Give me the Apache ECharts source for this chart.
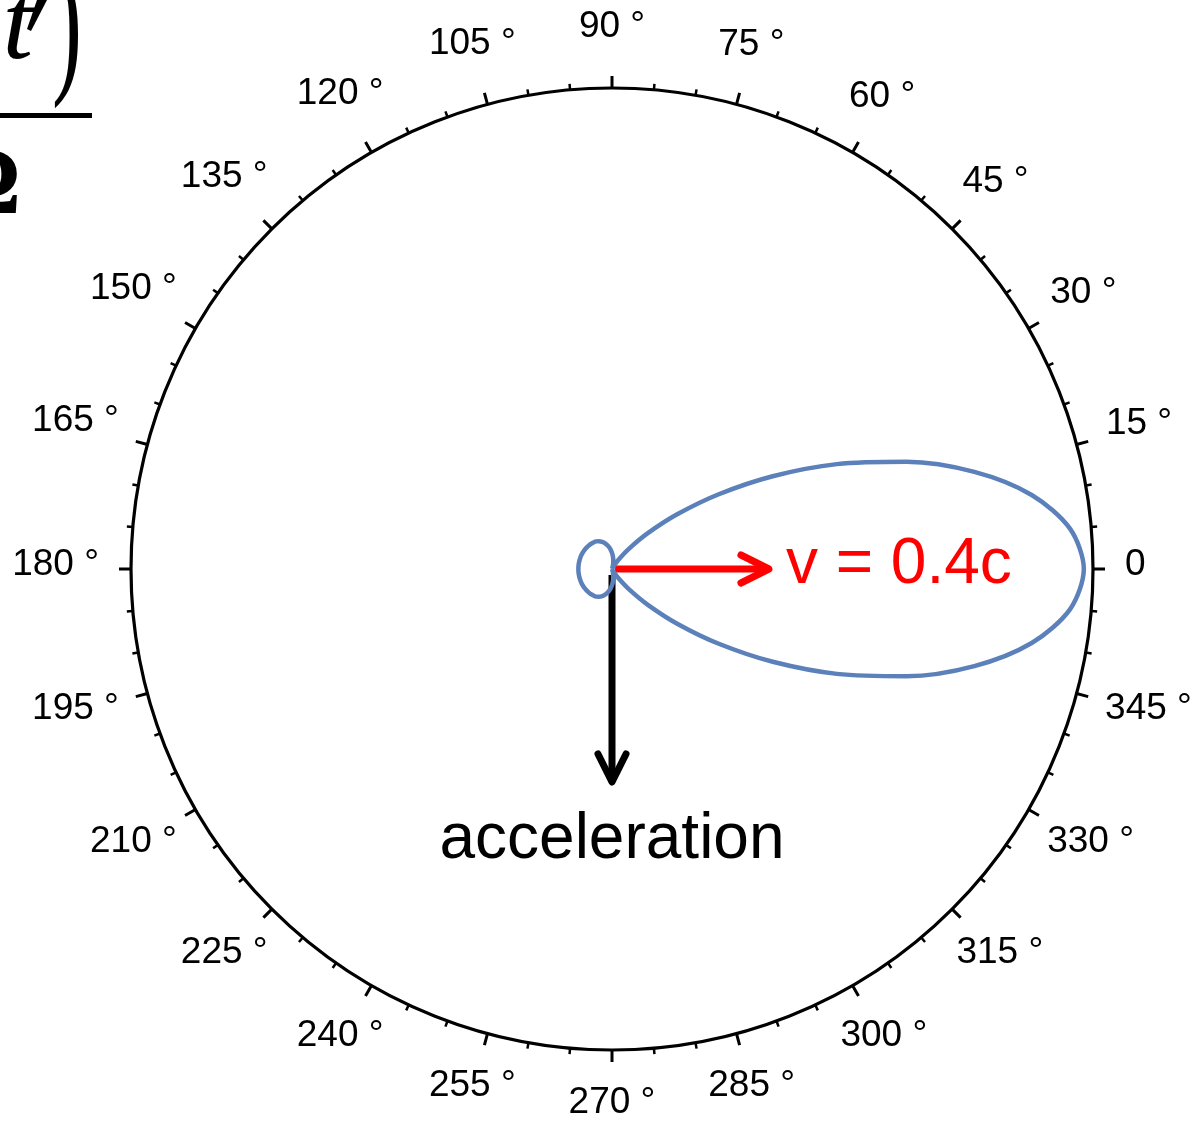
<!DOCTYPE html>
<html>
<head>
<meta charset="utf-8">
<script src="https://cdn.jsdelivr.net/npm/echarts@6/dist/echarts.min.js"></script>
<style>
html,body{margin:0;padding:0;background:#ffffff;}
#chart{width:1202px;height:1121px;}
</style>
</head>
<body>
<div id="chart"></div>
<script>
// ---- data ----
// radiation pattern (relative intensity) versus polar angle in degrees,
// traced starting from the point where the curve passes through the centre
const patternAngles = [66.4,70,75,80,85,90,95,100,105,110,115,120,125,130,135,140,145,150,155,160,165,170,175,180,185,190,195,200,205,210,215,220,225,230,235,240,245,250,255,260,265,270,275,280,285,290,293.6,295,300,305,310,315,320,325,330,335,340,345,350,355,0,5,10,15,20,25,30,35,40,45,50,55,60,65,66.4];
const patternValues = [0,0.007,0.034,0.073,0.117,0.158,0.199,0.232,0.260,0.282,0.300,0.313,0.318,0.322,0.324,0.326,0.328,0.329,0.330,0.330,0.330,0.330,0.330,0.330,0.330,0.330,0.330,0.330,0.330,0.329,0.328,0.326,0.324,0.322,0.318,0.313,0.300,0.282,0.260,0.232,0.199,0.158,0.117,0.073,0.034,0.007,0,0.001,0.031,0.111,0.261,0.497,0.835,1.279,1.821,2.435,3.076,3.681,4.182,4.513,4.630,4.513,4.182,3.681,3.076,2.435,1.821,1.279,0.835,0.497,0.261,0.111,0.031,0.001,0];
const radiusMax = 4.72;
// angle tick labels
const tickLabelAngles = [0,15,30,45,60,75,90,105,120,135,150,165,180,195,210,225,240,255,270,285,300,315,330,345];
const tickLabels = ['0','15 °','30 °','45 °','60 °','75 °','90 °','105 °','120 °','135 °','150 °','165 °','180 °','195 °','210 °','225 °','240 °','255 °','270 °','285 °','300 °','315 °','330 °','345 °'];
// annotation arrows (radius units of the same axis)
const arrowAngles = [0, 270];
const arrowStart = [0.03, 0.06];
const arrowEnd = [1.54, 2.09];
const arrowLabels = ['v = 0.4c', 'acceleration'];

// ---- styles ----
const arrowColors = ['#ff0000', '#000000'];
const curveColor = '#5b80ba';
const labelFontSize = 37;
const labelFont = labelFontSize + 'px "Liberation Sans"';
const CIRCLE_R = 481;

// label radius so that the label box sits just outside the dial
const ctx = document.createElement('canvas').getContext('2d');
ctx.font = labelFont;
const labelData = tickLabelAngles.map(function (a, i) {
  const w = ctx.measureText(tickLabels[i]).width;
  const rad = a * Math.PI / 180;
  const px = 513 + Math.sqrt(Math.pow(w / 2 * Math.cos(rad), 2) + Math.pow(25 * Math.sin(rad), 2));
  return [px / CIRCLE_R * radiusMax, a];
});

const patternData = patternAngles.map(function (a, i) { return [patternValues[i], a]; });
const arrowData = arrowAngles.map(function (a, i) { return [arrowStart[i], arrowEnd[i], a]; });

const chart = echarts.init(document.getElementById('chart'), null, { renderer: 'canvas' });
chart.setOption({
  animation: false,
  backgroundColor: '#ffffff',
  polar: { center: [612, 569], radius: CIRCLE_R },
  angleAxis: {
    type: 'value', min: 0, max: 360, interval: 15,
    startAngle: 0, clockwise: false,
    axisLine: { show: true, lineStyle: { color: '#000', width: 3.2 } },
    axisTick: { show: true, inside: false, length: 12, lineStyle: { color: '#000', width: 3 } },
    minorTick: { show: true, splitNumber: 3, length: 6, lineStyle: { color: '#000', width: 2.5 } },
    axisLabel: { show: false },
    splitLine: { show: false },
    minorSplitLine: { show: false }
  },
  radiusAxis: {
    type: 'value', min: 0, max: radiusMax, show: false,
    splitLine: { show: false }, axisLine: { show: false }, axisTick: { show: false }, axisLabel: { show: false }
  },
  graphic: [
    { type: 'text', x: 33, y: 29, silent: true,
      style: { text: 't', font: 'italic 110px "Liberation Serif"', fill: '#000', align: 'right', verticalAlign: 'middle' } },
    { type: 'polygon', silent: true,
      shape: { points: [[37, 0], [47, 0], [31, 31], [27, 29]] }, style: { fill: '#000' } },
    { type: 'text', x: 52, y: 31, scaleY: 1.8, silent: true,
      style: { text: ')', font: '90px "Liberation Serif"', fill: '#000', align: 'left', verticalAlign: 'middle' } },
    { type: 'rect', silent: true, shape: { x: 0, y: 113, width: 92, height: 5 }, style: { fill: '#000' } },
    { type: 'text', x: 21, y: 188, silent: true,
      style: { text: 'Ω', font: 'bold 95px "Liberation Serif"', fill: '#000', align: 'right', verticalAlign: 'middle' } }
  ],
  series: [
    {
      type: 'line', coordinateSystem: 'polar', data: patternData,
      showSymbol: false, smooth: 0.3, silent: true,
      lineStyle: { color: curveColor, width: 4.5 }
    },
    {
      type: 'custom', coordinateSystem: 'polar', data: arrowData, silent: true,
      renderItem: function (params, api) {
        const i = params.dataIndex;
        const a = api.value(2);
        const p0 = api.coord([api.value(0), a]);
        const p1 = api.coord([api.value(1), a]);
        const dx = p1[0] - p0[0], dy = p1[1] - p0[1];
        const L = Math.sqrt(dx * dx + dy * dy);
        const ux = dx / L, uy = dy / L;
        const nx = -uy, ny = ux;
        const back = 28, half = 14;
        const color = arrowColors[i];
        const w1 = [p1[0] - ux * back + nx * half, p1[1] - uy * back + ny * half];
        const w2 = [p1[0] - ux * back - nx * half, p1[1] - uy * back - ny * half];
        const horizontal = Math.abs(ux) > Math.abs(uy);
        const tx = horizontal ? p1[0] + ux * 17 : p1[0];
        const ty = horizontal ? p1[1] - 4 : p1[1] + uy * 26;
        return {
          type: 'group',
          children: [
            { type: 'line', shape: { x1: p0[0], y1: p0[1], x2: p1[0] - ux * 2, y2: p1[1] - uy * 2 },
              style: { stroke: color, lineWidth: 7, lineCap: 'butt' } },
            { type: 'polyline', shape: { points: [w1, p1, w2] },
              style: { stroke: color, fill: null, lineWidth: 7, lineCap: 'round', lineJoin: 'round' } },
            { type: 'text', x: tx, y: ty,
              style: { text: arrowLabels[i], fill: color, font: '64px "Liberation Sans"',
                       align: horizontal ? 'left' : 'center', verticalAlign: horizontal ? 'middle' : 'top' } }
          ]
        };
      }
    },
    {
      type: 'custom', coordinateSystem: 'polar', data: labelData, silent: true,
      renderItem: function (params, api) {
        const p = api.coord([api.value(0), api.value(1)]);
        return {
          type: 'text', x: p[0], y: p[1] - 4,
          style: { text: tickLabels[params.dataIndex], fill: '#000000', font: labelFont,
                   align: 'center', verticalAlign: 'middle' }
        };
      }
    }
  ]
});
</script>
</body>
</html>
